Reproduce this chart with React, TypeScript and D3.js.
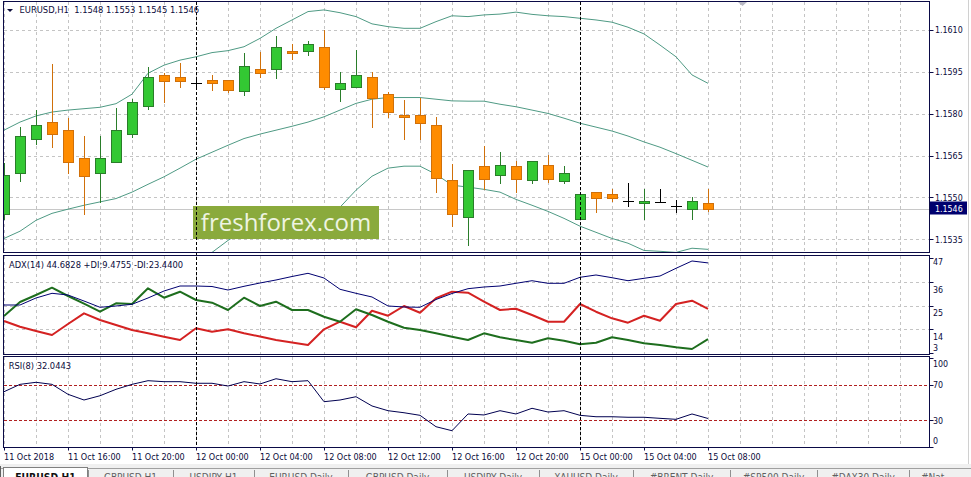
import React from "react";
import * as d3 from "d3";

const symbol = "EURUSD,H1";
const timeLabels = [
  "11 Oct 2018", "11 Oct 16:00", "11 Oct 20:00", "12 Oct 00:00", "12 Oct 04:00", "12 Oct 08:00",
  "12 Oct 12:00", "12 Oct 16:00", "12 Oct 20:00", "15 Oct 00:00", "15 Oct 04:00", "15 Oct 08:00",
];
const barsPerLabel = 4;
const daySeparators = [12, 36];

const opens = [1.15440, 1.15588, 1.15708, 1.15769, 1.15741, 1.15640, 1.15588, 1.15627, 1.15729, 1.15828, 1.15939, 1.15930, 1.15909, 1.15921, 1.15921, 1.15880, 1.15959, 1.15959, 1.16026, 1.16026, 1.16038, 1.15887, 1.15897, 1.15930, 1.15869, 1.15797, 1.15797, 1.15759, 1.15561, 1.15431, 1.15611, 1.15579, 1.15611, 1.15561, 1.15618, 1.15559, 1.15421, 1.15521, 1.15511, 1.15487, 1.15480, 1.15482, 1.15468, 1.15459, 1.15480];
const highs = [1.15623, 1.15753, 1.15813, 1.15978, 1.15783, 1.15720, 1.15720, 1.15819, 1.15851, 1.15968, 1.15946, 1.15980, 1.15927, 1.15937, 1.15921, 1.16017, 1.16020, 1.16078, 1.16050, 1.16059, 1.16100, 1.15949, 1.16028, 1.15949, 1.15879, 1.15849, 1.15858, 1.15789, 1.15620, 1.15600, 1.15683, 1.15662, 1.15629, 1.15629, 1.15651, 1.15611, 1.15511, 1.15521, 1.15530, 1.15551, 1.15529, 1.15529, 1.15490, 1.15500, 1.15530];
const lows = [1.15422, 1.15558, 1.15690, 1.15679, 1.15588, 1.15439, 1.15483, 1.15626, 1.15717, 1.15818, 1.15842, 1.15897, 1.15887, 1.15885, 1.15877, 1.15868, 1.15930, 1.15929, 1.15997, 1.16009, 1.15887, 1.15846, 1.15897, 1.15752, 1.15789, 1.15709, 1.15708, 1.15520, 1.15399, 1.15331, 1.15530, 1.15550, 1.15521, 1.15550, 1.15554, 1.15550, 1.15421, 1.15448, 1.15486, 1.15471, 1.15421, 1.15482, 1.15449, 1.15421, 1.15450];
const closes = [1.15580, 1.15720, 1.15759, 1.15729, 1.15627, 1.15577, 1.15640, 1.15741, 1.15842, 1.15930, 1.15918, 1.15918, 1.15909, 1.15909, 1.15885, 1.15970, 1.15947, 1.16038, 1.16016, 1.16049, 1.15897, 1.15909, 1.15937, 1.15857, 1.15807, 1.15789, 1.15767, 1.15568, 1.15439, 1.15600, 1.15566, 1.15618, 1.15566, 1.15629, 1.15566, 1.15589, 1.15511, 1.15498, 1.15498, 1.15487, 1.15489, 1.15482, 1.15468, 1.15489, 1.15460];

const bbUpper = [1.15741, 1.15770, 1.15792, 1.15806, 1.15813, 1.15818, 1.15823, 1.15836, 1.15870, 1.15945, 1.15974, 1.15992, 1.16004, 1.16019, 1.16026, 1.16040, 1.16070, 1.16106, 1.16136, 1.16166, 1.16172, 1.16162, 1.16148, 1.16122, 1.16112, 1.16106, 1.16106, 1.16130, 1.16151, 1.16148, 1.16154, 1.16157, 1.16164, 1.16156, 1.16151, 1.16148, 1.16142, 1.16136, 1.16128, 1.16110, 1.16086, 1.16046, 1.16004, 1.15939, 1.15909];
const bbMiddle = [1.15353, 1.15379, 1.15418, 1.15443, 1.15458, 1.15472, 1.15484, 1.15496, 1.15519, 1.15547, 1.15574, 1.15605, 1.15637, 1.15662, 1.15687, 1.15711, 1.15727, 1.15741, 1.15755, 1.15770, 1.15789, 1.15813, 1.15837, 1.15852, 1.15858, 1.15858, 1.15858, 1.15852, 1.15846, 1.15845, 1.15845, 1.15834, 1.15825, 1.15813, 1.15801, 1.15784, 1.15766, 1.15752, 1.15738, 1.15720, 1.15699, 1.15680, 1.15657, 1.15633, 1.15609];
const bbLower = [1.14966, 1.14987, 1.15045, 1.15081, 1.15102, 1.15127, 1.15145, 1.15156, 1.15167, 1.15149, 1.15174, 1.15217, 1.15271, 1.15303, 1.15346, 1.15382, 1.15382, 1.15375, 1.15375, 1.15375, 1.15407, 1.15465, 1.15526, 1.15576, 1.15605, 1.15612, 1.15612, 1.15583, 1.15544, 1.15537, 1.15529, 1.15519, 1.15493, 1.15472, 1.15450, 1.15425, 1.15397, 1.15375, 1.15353, 1.15336, 1.15310, 1.15307, 1.15303, 1.15318, 1.15314];

const adxMain = [25.23, 25.23, 28.47, 30.64, 29.85, 27.08, 24.17, 24.77, 25.56, 28.47, 31.70, 34.01, 34.01, 33.78, 32.16, 33.87, 35.40, 36.79, 38.40, 39.88, 37.71, 32.49, 30.64, 28.93, 24.77, 24.31, 24.17, 27.77, 30.55, 32.77, 33.55, 34.01, 35.26, 36.46, 35.26, 35.26, 38.03, 39.10, 37.85, 36.46, 37.57, 38.63, 42.19, 45.57, 44.6828];
const plusDI = [20.15, 26.62, 29.85, 33.22, 29.39, 25.83, 22.13, 26.01, 25.69, 32.95, 28.60, 31.38, 27.54, 26.29, 22.92, 28.60, 24.77, 26.75, 22.92, 22.92, 19.82, 17.51, 23.24, 20.61, 17.51, 14.74, 13.68, 12.15, 10.58, 9.06, 12.15, 10.30, 9.06, 7.81, 9.84, 8.73, 7.07, 7.81, 10.30, 9.06, 7.53, 6.74, 5.68, 4.90, 9.4755];
const minusDI = [17.84, 15.20, 13.21, 11.37, 16.45, 21.39, 18.30, 15.99, 13.68, 12.15, 10.58, 9.06, 14.46, 12.89, 14.00, 12.15, 10.67, 9.06, 7.90, 6.74, 14.00, 17.51, 14.92, 22.60, 20.28, 24.77, 21.67, 28.33, 31.38, 30.91, 26.75, 22.92, 23.52, 20.61, 17.51, 17.51, 25.69, 22.13, 19.08, 17.05, 20.28, 17.97, 25.69, 27.22, 23.44];
const rsi = [62.1, 70.4, 72.7, 70.4, 59.2, 52.8, 57.6, 64.8, 70.4, 74.5, 73.4, 73.4, 71.6, 71.6, 68.5, 73.4, 70.8, 76.7, 73.4, 74.5, 50.9, 52.8, 56.5, 46.1, 40.8, 38.5, 35.6, 22.8, 18.3, 37.1, 36.0, 40.8, 37.1, 43.5, 39.3, 40.8, 35.6, 34.0, 34.0, 33.4, 33.4, 32.2, 31.1, 37.1, 32.0443];

const priceTicks = [1.1535, 1.155, 1.1565, 1.158, 1.1595, 1.161];
const adxTicks = [47, 36, 25, 14, 3];
const adxGrid = [36, 25, 14];
const rsiTicks = [100, 70, 30, 0];
const rsiLevels = [70, 30];
const lastPrice = 1.1546;
const tabs = ["EURUSD,H1", "GBPUSD,H1", "USDJPY,H1", "EURUSD,Daily", "GBPUSD,Daily", "USDJPY,Daily", "XAUUSD,Daily", "#BRENT,Daily", "#SP500,Daily", "#DAX30,Daily", "#Nat"];

// layout
const FONT = "'DejaVu Sans Condensed', 'DejaVu Sans', Tahoma, sans-serif";
const TXT = "#0b0b3b";
const BORDER = "#0a0a46";
const GRID = "#c4c4c4";
const L = 3.5, R = 929.5;
const mainP = { top: 1.5, bottom: 252.5 };
const adxP = { top: 255.5, bottom: 354.5 };
const rsiP = { top: 356.5, bottom: 447.5 };
const tabEdges = [3, 88, 173, 254, 348, 447, 539, 633, 730, 817, 909, 990];

export default function App() {
  const x = d3.scaleLinear().domain([0, 57.8125]).range([4, 929]);
  const yP = d3.scaleLinear().domain([1.1535, 1.161]).range([239.3, 30]);
  const yA = d3.scaleLinear().domain([3, 47]).range([353.1, 257.9]);
  const yR = d3.scaleLinear().domain([0, 100]).range([447, 358]);

  const mk = (ys: d3.ScaleLinear<number, number>) =>
    d3.line<number>().x((_, i) => x(i)).y((d) => ys(d));
  const priceLine = mk(yP);
  const adxLine = mk(yA);
  const rsiLine = mk(yR);

  const gridXs = d3.range(0, 58, 2).map((i) => Math.round(x(i)) + 0.5);
  const panels = [mainP, adxP, rsiP];
  const n = closes.length;
  const header = `${symbol}  ${opens[n - 1].toFixed(4)} ${highs[n - 1].toFixed(4)} ${lows[n - 1].toFixed(4)} ${closes[n - 1].toFixed(4)}`;

  const GREEN_F = "#33c833";
  const GREEN_S = "#2a7d2a";
  const ORANGE_F = "#ff8c00";
  const ORANGE_S = "#d0700a";

  return (
    <svg width={971} height={477} style={{ position: "absolute", left: 0, top: 0, background: "#fff" }} fontFamily={FONT}>
      <defs>
        {panels.map((p, k) => (
          <clipPath id={`clip${k}`} key={k}>
            <rect x={L} y={p.top} width={R - L} height={p.bottom - p.top} />
          </clipPath>
        ))}
      </defs>
      <rect x={0} y={0} width={971} height={477} fill="#fff" />

      {/* vertical grid */}
      {panels.map((p, k) => (
        <g key={`vg${k}`} stroke={GRID} strokeDasharray="3,3" shapeRendering="crispEdges">
          {gridXs.map((gx) => (
            <line key={gx} x1={gx} x2={gx} y1={p.top} y2={p.bottom} />
          ))}
        </g>
      ))}
      {/* horizontal grid */}
      <g stroke={GRID} strokeDasharray="3,3" shapeRendering="crispEdges">
        {priceTicks.map((t) => (
          <line key={t} x1={L} x2={R} y1={Math.round(yP(t)) + 0.5} y2={Math.round(yP(t)) + 0.5} />
        ))}
        {adxGrid.map((t) => (
          <line key={t} x1={L} x2={R} y1={Math.round(yA(t)) + 0.5} y2={Math.round(yA(t)) + 0.5} />
        ))}
      </g>

      {/* bid line */}
      <line x1={L} x2={R} y1={Math.round(yP(lastPrice)) + 0.5} y2={Math.round(yP(lastPrice)) + 0.5} stroke="#c8c8c8" shapeRendering="crispEdges" />

      {/* main panel content */}
      <g clipPath="url(#clip0)">
        {[bbUpper, bbMiddle, bbLower].map((b, k) => (
          <path key={k} d={priceLine(b) || ""} fill="none" stroke="#4f9a84" strokeWidth={1} />
        ))}
        <g shapeRendering="crispEdges">
          {closes.map((c, i) => {
            const o = opens[i];
            const cx = Math.round(x(i));
            const up = c > o;
            const down = c < o;
            const stroke = up ? GREEN_S : down ? ORANGE_S : "#000";
            const fill = up ? GREEN_F : down ? ORANGE_F : "#000";
            const yh = Math.round(yP(highs[i]));
            const yl = Math.round(yP(lows[i]));
            const yt = Math.round(yP(Math.max(o, c)));
            const yb = Math.round(yP(Math.min(o, c)));
            return (
              <g key={i}>
                <line x1={cx + 0.5} x2={cx + 0.5} y1={yh} y2={yl + 1} stroke={stroke} />
                {up || down ? (
                  <rect x={cx - 4.5} y={yt + 0.5} width={10} height={Math.max(1, yb - yt)} fill={fill} stroke={stroke} />
                ) : (
                  <line x1={cx - 5} x2={cx + 6} y1={yt + 0.5} y2={yt + 0.5} stroke="#000" />
                )}
              </g>
            );
          })}
        </g>
      </g>

      {/* watermark */}
      <rect x={193} y={206} width={186} height={33} fill="#8aaa3c" />
      <text x={286} y={231} textAnchor="middle" fontFamily="'Open Sans', 'Noto Sans', sans-serif" fontSize={24} fill="#eef4e2">
        freshforex.com
      </text>

      {/* ADX panel */}
      <g clipPath="url(#clip1)" fill="none" strokeLinejoin="round">
        <path d={adxLine(minusDI) || ""} stroke="#d42222" strokeWidth={2} />
        <path d={adxLine(plusDI) || ""} stroke="#1e6e1e" strokeWidth={2} />
        <path d={adxLine(adxMain) || ""} stroke="#000070" strokeWidth={1} />
      </g>

      {/* RSI panel */}
      <g stroke="#b02020" strokeDasharray="3,2" shapeRendering="crispEdges">
        {rsiLevels.map((t) => (
          <line key={t} x1={L} x2={R} y1={Math.round(yR(t)) + 0.5} y2={Math.round(yR(t)) + 0.5} />
        ))}
      </g>
      <g clipPath="url(#clip2)">
        <path d={rsiLine(rsi) || ""} fill="none" stroke="#000050" strokeWidth={1} />
      </g>

      {/* day separators */}
      <g stroke="#000" strokeDasharray="3,2" shapeRendering="crispEdges">
        {daySeparators.map((i) => {
          const sx = Math.round(x(i)) + 0.5;
          return <line key={i} x1={sx} x2={sx} y1={mainP.top} y2={rsiP.bottom} />;
        })}
      </g>

      {/* panel borders */}
      <g fill="none" stroke={BORDER} shapeRendering="crispEdges">
        {panels.map((p, k) => (
          <rect key={k} x={L} y={p.top} width={R - L} height={p.bottom - p.top} />
        ))}
      </g>

      {/* header & titles */}
      <polygon points="7,9 13,9 10,12" fill={TXT} />
      <text x={19.5} y={12.6} fontSize={9.3} fill={TXT} xmlSpace="preserve">{header}</text>
      <text x={9} y={268.4} fontSize={9.26} fill={TXT}>
        {`ADX(14) ${adxMain[n - 1].toFixed(4)} +DI:${plusDI[n - 1].toFixed(4)} -DI:${minusDI[n - 1].toFixed(4)}`}
      </text>
      <text x={8.7} y={369} fontSize={9.25} fill={TXT}>{`RSI(8) ${rsi[n - 1].toFixed(4)}`}</text>

      {/* right price axis */}
      <g fontSize={8.8} fill={TXT}>
        {priceTicks.map((t) => (
          <g key={t}>
            <line x1={R} x2={R + 4} y1={Math.round(yP(t)) + 0.5} y2={Math.round(yP(t)) + 0.5} stroke={BORDER} />
            <text x={935} y={yP(t) + 3.3}>{t.toFixed(4)}</text>
          </g>
        ))}
        {adxTicks.map((t, k) => {
          let ty = yA(t) + 7.5;
          if (k === 0) ty = adxP.top + 6.5;
          if (k === adxTicks.length - 1) ty = adxP.bottom - 7;
          return (
            <g key={t}>
              <line x1={R} x2={R + 4} y1={Math.round(yA(t)) + 0.5} y2={Math.round(yA(t)) + 0.5} stroke={BORDER} />
              <text x={933} y={ty + 3.3}>{t}</text>
            </g>
          );
        })}
        {rsiTicks.map((t) => {
          const ty = Math.min(Math.max(yR(t), rsiP.top + 6.8), rsiP.bottom - 6.8);
          return (
            <g key={t}>
              <line x1={R} x2={R + 4} y1={Math.round(yR(t)) + 0.5} y2={Math.round(yR(t)) + 0.5} stroke={BORDER} />
              <text x={933} y={ty + 3.3}>{t}</text>
            </g>
          );
        })}
      </g>
      <rect x={930} y={201.5} width={37} height={13} fill="#00006e" />
      <text x={935} y={211.5} fontSize={8.8} fill="#fff">{lastPrice.toFixed(4)}</text>

      {/* chart shift marker */}
      <polygon points="738,2 747,2 742.5,6" fill="#b8b8c4" />

      {/* time axis */}
      <g fontSize={9} fill={TXT}>
        {timeLabels.map((lab, k) => {
          const tx = Math.round(x(k * barsPerLabel));
          return (
            <g key={lab}>
              <line x1={tx + 0.5} x2={tx + 0.5} y1={rsiP.bottom} y2={rsiP.bottom + 3} stroke={BORDER} />
              <text x={tx} y={460}>{lab}</text>
            </g>
          );
        })}
      </g>

      {/* right window edge */}
      <line x1={968.5} x2={968.5} y1={0} y2={466} stroke="#d0d0d0" />

      {/* tabs */}
      <rect x={0} y={464} width={971} height={13} fill="#f0f0f0" />
      <line x1={0} x2={971} y1={468.5} y2={468.5} stroke="#a0a0a0" />
      <rect x={3.5} y={467.5} width={84} height={12} fill="#fff" stroke="#808080" />
      <line x1={0.5} x2={0.5} y1={466} y2={477} stroke="#606060" />
      {tabs.map((t, k) => {
        const a = tabEdges[k], b = tabEdges[k + 1];
        return (
          <g key={t}>
            {k > 0 && <line x1={a + 0.5} x2={a + 0.5} y1={470} y2={477} stroke="#909090" />}
            <text x={k === tabs.length - 1 ? a + 12 : (a + b) / 2} y={480.5} textAnchor={k === tabs.length - 1 ? "start" : "middle"}
              fontSize={k === 0 ? 10.3 : 10} fontWeight={k === 0 ? "bold" : "normal"} fill={k === 0 ? "#111" : "#606060"}>
              {t}
            </text>
          </g>
        );
      })}
    </svg>
  );
}
